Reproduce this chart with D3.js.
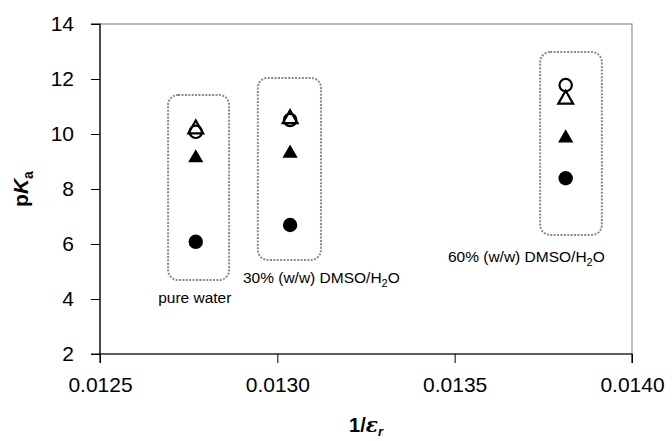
<!DOCTYPE html>
<html><head><meta charset="utf-8">
<script src="https://cdn.jsdelivr.net/npm/d3@7"></script>
<style>body{margin:0;background:#fff;} text{font-family:"Liberation Sans",Arial,sans-serif;}</style>
</head><body><svg id="c" width="672" height="441"></svg>
<script>
const xValues = [0.01277, 0.013036, 0.013813];
const filledCircle = [6.08, 6.69, 8.39];
const filledTriangle = [9.13, 9.30, 9.85];
const openTriangle = [10.18, 10.55, 11.26];
const openCircle = [10.08, 10.51, 11.78];
const groupLabels = ["pure water", "30% (w/w) DMSO/H", "60% (w/w) DMSO/H"];
const groupSub = ["", "2", "2"];
const groupSuffix = ["", "O", "O"];
// box extents in data units: [x0, x1, yTop, yBottom]
const boxX0 = [0.012692, 0.012945, 0.013741];
const boxX1 = [0.012864, 0.013123, 0.013915];
const boxTop = [11.42, 12.04, 12.98];
const boxBottom = [4.69, 5.42, 6.33];
const labelX = [0.012664, 0.012903, 0.013481];
const labelY = [3.87, 4.6, 5.33];
const xTicks = [0.0125, 0.0130, 0.0135, 0.0140];
const yTicks = [2, 4, 6, 8, 10, 12, 14];

const svg = d3.select("#c");
const L = 100, R = 632, T = 24, B = 354;
const x = d3.scaleLinear().domain([0.0125, 0.0140]).range([L, R]);
const y = d3.scaleLinear().domain([2, 14]).range([B, T]);

// plot border
svg.append("rect").attr("x", L).attr("y", T).attr("width", R - L).attr("height", B - T)
  .attr("fill", "none").attr("stroke", "#777").attr("stroke-width", 1);

const yAxis = d3.axisLeft(y).tickValues(yTicks).tickSize(9).tickPadding(17).tickFormat(d3.format("d"));
const gy = svg.append("g").attr("transform", `translate(${L},0)`).call(yAxis);
const xAxis = d3.axisBottom(x).tickValues(xTicks).tickSize(9).tickPadding(14).tickFormat(d3.format(".4f"));
const gx = svg.append("g").attr("transform", `translate(0,${B})`).call(xAxis);
[gy, gx].forEach(g => {
  g.selectAll("path").attr("stroke", "#000").attr("stroke-width", 1.2);
  g.selectAll("line").attr("stroke", "#000");
  g.selectAll("text").attr("font-size", 21).attr("fill", "#000").attr("font-family", "Liberation Sans, Arial, sans-serif");
});
gx.select(".domain").attr("d", `M${L},9V0H${R}V9`);
gy.select(".domain").attr("d", `M-9,${T}H0V${B}H-9`);

// group boxes
xValues.forEach((_, i) => {
  svg.append("rect")
    .attr("x", x(boxX0[i])).attr("y", y(boxTop[i]))
    .attr("width", x(boxX1[i]) - x(boxX0[i])).attr("height", y(boxBottom[i]) - y(boxTop[i]))
    .attr("rx", 10).attr("ry", 10)
    .attr("fill", "none").attr("stroke", "#8a8a8a").attr("stroke-width", 2)
    .attr("stroke-dasharray", "2 1.4");
  const t = svg.append("text").attr("x", x(labelX[i])).attr("y", y(labelY[i]))
    .attr("font-size", 15.5).attr("fill", "#000");
  t.append("tspan").text(groupLabels[i]);
  if (groupSub[i]) {
    t.append("tspan").attr("font-size", 11).attr("dy", 4).text(groupSub[i]);
    t.append("tspan").attr("dy", -4).text(groupSuffix[i]);
  }
});

const circ = d3.symbol().type(d3.symbolCircle).size(Math.PI * 7.2 * 7.2);
const tri = d3.symbol().type(d3.symbolTriangle).size(100);
const triOpen = d3.symbol().type(d3.symbolTriangle).size(95);
const circOpen = d3.symbol().type(d3.symbolCircle).size(Math.PI * 6.2 * 6.2);

function plot(vals, gen, filled) {
  svg.append("g").selectAll("path").data(vals).join("path")
    .attr("transform", (d, i) => `translate(${x(xValues[i])},${y(d)})`)
    .attr("d", gen)
    .attr("fill", filled ? "#000" : "none")
    .attr("stroke", "#000").attr("stroke-width", filled ? 0 : 2.2);
}
plot(filledCircle, circ, true);
plot(filledTriangle, tri, true);
plot(openCircle, circOpen, false);
plot(openTriangle, triOpen, false);

// axis titles
const yt = svg.append("text").attr("transform", `translate(28,${(T + B) / 2}) rotate(-90)`)
  .attr("text-anchor", "middle").attr("font-size", 21).attr("font-weight", "bold");
yt.append("tspan").text("p");
yt.append("tspan").attr("font-style", "italic").text("K");
yt.append("tspan").attr("font-size", 14).attr("dy", 5).text("a");

const xt = svg.append("text").attr("x", (L + R) / 2).attr("y", 432)
  .attr("text-anchor", "middle").attr("font-size", 20).attr("font-weight", "bold");
xt.append("tspan").text("1/");
xt.append("tspan").attr("font-style", "italic").attr("font-family", "DejaVu Serif, serif").text("ε");
xt.append("tspan").attr("font-style", "italic").attr("font-size", 13).attr("dy", 4).text("r");
</script></body></html>
